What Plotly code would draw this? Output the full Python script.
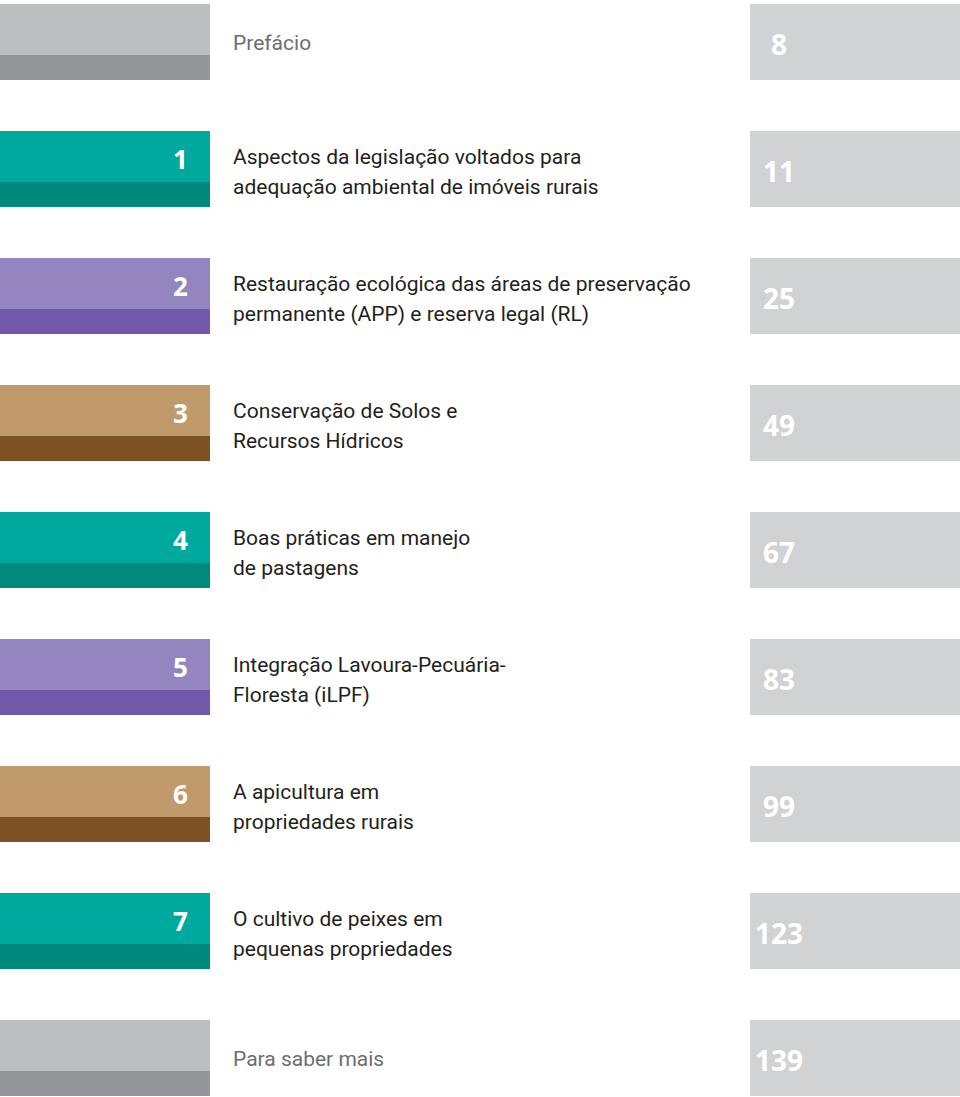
import plotly.graph_objects as go

# ---- data ----
chapter_labels = ["", "1", "2", "3", "4", "5", "6", "7", ""]
titles = [
    ["Prefácio"],
    ["Aspectos da legislação voltados para", "adequação ambiental de imóveis rurais"],
    ["Restauração ecológica das áreas de preservação", "permanente (APP) e reserva legal (RL)"],
    ["Conservação de Solos e", "Recursos Hídricos"],
    ["Boas práticas em manejo", "de pastagens"],
    ["Integração Lavoura-Pecuária-", "Floresta (iLPF)"],
    ["A apicultura em", "propriedades rurais"],
    ["O cultivo de peixes em", "pequenas propriedades"],
    ["Para saber mais"],
]
pages = ["8", "11", "25", "49", "67", "83", "99", "123", "139"]
themes = ["gray", "teal", "purple", "brown", "teal", "purple", "brown", "teal", "gray"]

# ---- styles ----
palette = {
    "gray":   ("#bdbec0", "#939598"),
    "teal":   ("#00a99d", "#00897d"),
    "purple": ("#9485c0", "#7258a8"),
    "brown":  ("#c09a6b", "#7e5123"),
}
page_box = "#d1d2d4"
W, H = 960, 1097
top0, pitch = 4, 127.0
h_up, h_low = 51, 25
left_w = 210
box_x0 = 750
body_font = "Roboto, Open Sans, sans-serif"
num_font = "Open Sans, Roboto, sans-serif"

fig = go.Figure()
fig.add_trace(go.Scatter(x=[0, W], y=[0, H], mode="markers",
                         marker=dict(opacity=0), hoverinfo="skip", showlegend=False))

shapes = []
annotations = []
for i, (lab, lines, pg, th) in enumerate(zip(chapter_labels, titles, pages, themes)):
    t = top0 + i * pitch
    up, low = palette[th]
    shapes.append(dict(type="rect", xref="x", yref="y", x0=0, x1=left_w, y0=t, y1=t + h_up,
                       fillcolor=up, line=dict(width=0), layer="below"))
    shapes.append(dict(type="rect", xref="x", yref="y", x0=0, x1=left_w, y0=t + h_up,
                       y1=t + h_up + h_low, fillcolor=low, line=dict(width=0), layer="below"))
    shapes.append(dict(type="rect", xref="x", yref="y", x0=box_x0, x1=W, y0=t,
                       y1=t + h_up + h_low, fillcolor=page_box, line=dict(width=0), layer="below"))
    if lab:
        annotations.append(dict(x=190, y=t + 28, xref="x", yref="y", text=f"<b>{lab}</b>",
                                showarrow=False, xanchor="right", yanchor="middle",
                                font=dict(family=num_font, size=26, color="white")))
    annotations.append(dict(x=779, y=t + 40, xref="x", yref="y", text=f"<b>{pg}</b>",
                            showarrow=False, xanchor="center", yanchor="middle",
                            font=dict(family=num_font, size=28, color="white")))
    if len(lines) == 1:
        annotations.append(dict(x=231, y=t + 39, xref="x", yref="y", text=lines[0],
                                showarrow=False, xanchor="left", yanchor="middle",
                                font=dict(family=body_font, size=21, color="#6d6e71")))
    else:
        for j, ln in enumerate(lines):
            annotations.append(dict(x=231, y=t + 26 + j * 29.5, xref="x", yref="y", text=ln,
                                    showarrow=False, xanchor="left", yanchor="middle",
                                    font=dict(family=body_font, size=21, color="#231f20")))

fig.update_layout(
    width=W, height=H,
    margin=dict(l=0, r=0, t=0, b=0),
    paper_bgcolor="white", plot_bgcolor="white",
    xaxis=dict(range=[0, W], visible=False, fixedrange=True),
    yaxis=dict(range=[H, 0], visible=False, fixedrange=True),
    shapes=shapes, annotations=annotations, showlegend=False,
)
fig.write_html("out.html", config={"displayModeBar": False},
               post_script="document.body.style.margin='0';document.body.style.overflow='hidden';")
